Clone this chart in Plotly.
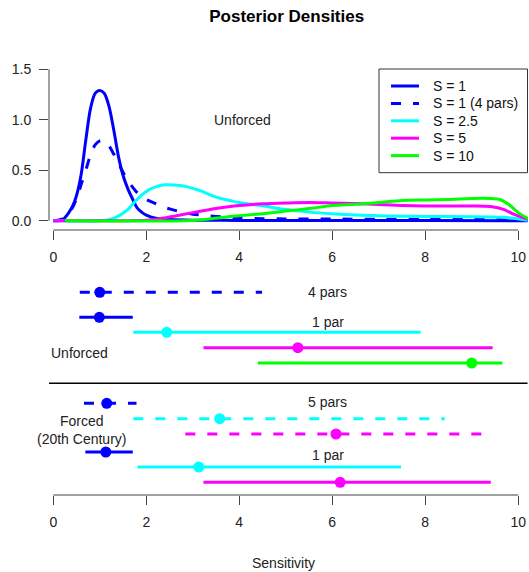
import plotly.graph_objects as go

# ---------------- data ----------------
# Posterior densities
s1_x = [0.0, 0.2, 0.4, 0.5, 0.6, 0.7, 0.8, 0.9, 1.0, 1.1, 1.2, 1.3, 1.4, 1.5, 1.6, 1.7, 1.8, 1.9, 2.0, 2.2, 2.5, 3.0, 4.0, 6.0, 8.0, 10.2]
s1_y = [0.0, 0.01, 0.13, 0.25, 0.46, 0.80, 1.11, 1.26, 1.29, 1.26, 1.13, 0.90, 0.64, 0.45, 0.32, 0.22, 0.13, 0.085, 0.055, 0.025, 0.012, 0.005, 0.003, 0.002, 0.002, 0.0]

s1p4_x = [0.0, 0.2, 0.4, 0.5, 0.6, 0.7, 0.8, 0.9, 1.0, 1.1, 1.2, 1.3, 1.4, 1.5, 1.6, 1.8, 2.0, 2.2, 2.4, 2.6, 2.8, 3.0, 3.3, 3.7, 4.0, 4.5, 5.0, 6.0, 7.0, 8.0, 9.0, 10.0, 10.2]
s1p4_y = [0.0, 0.02, 0.12, 0.22, 0.36, 0.50, 0.65, 0.75, 0.79, 0.79, 0.74, 0.66, 0.57, 0.48, 0.40, 0.28, 0.21, 0.17, 0.13, 0.105, 0.08, 0.065, 0.05, 0.035, 0.027, 0.02, 0.018, 0.016, 0.015, 0.013, 0.012, 0.01, 0.004]

s25_x = [0.0, 1.0, 1.2, 1.4, 1.6, 1.8, 2.0, 2.2, 2.4, 2.6, 2.8, 3.0, 3.2, 3.4, 3.6, 3.8, 4.0, 4.3, 4.6, 5.0, 5.5, 6.0, 6.5, 7.0, 7.5, 8.0, 9.0, 9.6, 9.9, 10.2]
s25_y = [0.0, 0.0, 0.01, 0.045, 0.11, 0.21, 0.29, 0.335, 0.355, 0.353, 0.343, 0.32, 0.29, 0.25, 0.22, 0.20, 0.18, 0.16, 0.14, 0.11, 0.085, 0.068, 0.056, 0.05, 0.045, 0.042, 0.04, 0.035, 0.025, 0.005]

s5_x = [0.0, 2.0, 2.3, 2.6, 3.0, 3.5, 4.0, 4.5, 5.0, 5.5, 6.0, 6.5, 7.0, 7.5, 8.0, 8.5, 9.0, 9.4, 9.7, 9.9, 10.1, 10.25]
s5_y = [0.0, 0.005, 0.02, 0.045, 0.08, 0.12, 0.15, 0.167, 0.175, 0.18, 0.175, 0.17, 0.16, 0.15, 0.145, 0.145, 0.145, 0.14, 0.11, 0.065, 0.03, 0.01]

s10_x = [0.25, 2.8, 3.2, 3.6, 4.0, 4.5, 5.0, 5.5, 6.0, 6.5, 7.0, 7.5, 8.0, 8.5, 9.0, 9.4, 9.6, 9.8, 10.0, 10.25]
s10_y = [0.0, 0.0, 0.01, 0.03, 0.05, 0.07, 0.095, 0.12, 0.15, 0.162, 0.18, 0.2, 0.205, 0.21, 0.22, 0.22, 0.21, 0.16, 0.08, 0.012]

density_names = ["S = 1", "S = 1 (4 pars)", "S = 2.5", "S = 5", "S = 10"]

# Interval summaries: (lower, median, upper)
unforced_4pars = [("S = 1", 0.57, 1.00, 4.49)]
unforced_1par = [("S = 1", 0.56, 0.99, 1.71), ("S = 2.5", 1.72, 2.44, 7.90),
                 ("S = 5", 3.23, 5.26, 9.45), ("S = 10", 4.40, 9.00, 9.66)]
forced_5pars = [("S = 1", 0.66, 1.15, 1.79), ("S = 2.5", 1.72, 3.58, 8.42),
                ("S = 5", 2.84, 6.08, 9.45)]
forced_1par = [("S = 1", 0.69, 1.13, 1.71), ("S = 2.5", 1.81, 3.13, 7.48),
               ("S = 5", 3.23, 6.17, 9.41)]

x_ticks = [0, 2, 4, 6, 8, 10]
y_ticks = [0.0, 0.5, 1.0, 1.5]

# ---------------- styling ----------------
colors = {"S = 1": "#0000FF", "S = 2.5": "#00FFFF", "S = 5": "#FF00FF", "S = 10": "#00FF00"}
FONT = "Liberation Sans, Arial, Helvetica, sans-serif"
W, H = 529, 572
LW = 3
DASH = "10px,12px"

def py(px):  # pixel row -> paper y
    return 1 - px / H

def pxx(px):  # pixel column -> paper x
    return px / W

fig = go.Figure()

dens = [(s1_x, s1_y, "S = 1", "solid"), (s1p4_x, s1p4_y, "S = 1", DASH),
        (s25_x, s25_y, "S = 2.5", "solid"), (s5_x, s5_y, "S = 5", "solid"),
        (s10_x, s10_y, "S = 10", "solid")]
for (xs, ys, key, dash), name in zip(dens, density_names):
    fig.add_trace(go.Scatter(x=xs, y=ys, mode="lines", name=name, showlegend=False,
                             line=dict(color=colors[key], width=LW, dash=dash, shape="spline", smoothing=0.8),
                             xaxis="x", yaxis="y"))

# Bottom panel rows (row slot positions in panel units)
row_pos = {
    "u4": [292.3],
    "u1": [317.3, 332.3, 347.7, 363.0],
    "f5": [403.3, 418.7, 434.0],
    "f1": [452.0, 467.0, 482.3],
}
groups = [(unforced_4pars, row_pos["u4"], DASH), (unforced_1par, row_pos["u1"], "solid"),
          (forced_5pars, row_pos["f5"], DASH), (forced_1par, row_pos["f1"], "solid")]
for data, rows, dash in groups:
    for (key, lo, med, hi), yy in zip(data, rows):
        fig.add_trace(go.Scatter(x=[lo, hi], y=[yy, yy], mode="lines", showlegend=False,
                                 line=dict(color=colors[key], width=LW, dash=dash),
                                 xaxis="x2", yaxis="y2"))
        fig.add_trace(go.Scatter(x=[med], y=[yy], mode="markers", showlegend=False,
                                 marker=dict(color=colors[key], size=11, line=dict(width=0)),
                                 xaxis="x2", yaxis="y2"))

xr = [-0.092, 10.21]
xdom = [49 / W, 528 / W]
axis_common = dict(showgrid=False, zeroline=False, showline=False, ticks="outside", ticklen=9,
                   tickwidth=1, tickcolor="#444", tickfont=dict(size=14, color="#222", family=FONT))

fig.update_layout(
    width=W, height=H, autosize=False,
    margin=dict(l=0, r=0, t=0, b=0, autoexpand=False),
    paper_bgcolor="white", plot_bgcolor="white",
    font=dict(family=FONT, size=14, color="#222"),
    title=dict(text="<b>Posterior Densities</b>", x=286.7 / W, xanchor="center",
               y=py(16.5), yanchor="middle", yref="container",
               font=dict(size=17, color="black", family=FONT)),
    xaxis=dict(domain=xdom, range=xr, anchor="y", tickvals=x_ticks, ticklabelstandoff=5, **axis_common),
    yaxis=dict(domain=[py(230), py(68)], range=[-0.092, 1.512], anchor="x",
               tickvals=y_ticks, tickformat=".1f", ticklabelstandoff=5, **axis_common),
    xaxis2=dict(domain=xdom, range=xr, anchor="y2", tickvals=x_ticks, ticklabelstandoff=5, **axis_common),
    yaxis2=dict(domain=[py(495), py(280)], range=[495, 280], anchor="x2", visible=False),
    showlegend=False,
)

# R-style axis spines spanning only the tick range
fig.add_shape(type="line", xref="x", yref="y domain", x0=0, x1=10, y0=0, y1=0,
              line=dict(color="#444", width=1))
fig.add_shape(type="line", xref="x domain", yref="y", x0=0, x1=0, y0=0, y1=1.5,
              line=dict(color="#444", width=1))
fig.add_shape(type="line", xref="x2", yref="y2 domain", x0=0, x1=10, y0=0, y1=0,
              line=dict(color="#444", width=1))
# separator between unforced and forced
fig.add_shape(type="line", xref="x2", yref="y2", x0=-0.39, x1=10.2, y0=383.3, y1=383.3,
              line=dict(color="black", width=1.5))

# Legend box (R-style, top right of density panel)
fig.add_shape(type="rect", xref="paper", yref="paper", x0=pxx(379), x1=pxx(527.5), y0=py(172.7), y1=py(69),
              line=dict(color="#333", width=1), fillcolor="white", layer="above")
for i, ((xs, ys, key, dash), name) in enumerate(zip(dens, density_names)):
    ry = py(86 + 17.4 * i)
    fig.add_shape(type="line", xref="paper", yref="paper", x0=pxx(391), x1=pxx(419), y0=ry, y1=ry,
                  line=dict(color=colors[key], width=LW, dash=dash), layer="above")
    fig.add_annotation(text=name, x=pxx(431), y=ry, xref="paper", yref="paper", xanchor="left",
                       yanchor="middle", showarrow=False, font=dict(size=14, color="#111", family=FONT))

ann = dict(showarrow=False, font=dict(size=14, color="#222", family=FONT))
fig.add_annotation(text="Unforced", x=4.07, y=1.0, xref="x", yref="y", **ann)
fig.add_annotation(text="4 pars", x=5.9, y=292.3, xref="x2", yref="y2", **ann)
fig.add_annotation(text="1 par", x=5.91, y=322.3, xref="x2", yref="y2", **ann)
fig.add_annotation(text="Unforced", x=0.57, y=352.7, xref="x2", yref="y2", **ann)
fig.add_annotation(text="5 pars", x=5.9, y=402.3, xref="x2", yref="y2", **ann)
fig.add_annotation(text="1 par", x=5.9, y=455.0, xref="x2", yref="y2", **ann)
fig.add_annotation(text="Forced<br>(20th Century)", x=0.61, y=429.5, xref="x2", yref="y2", **ann)
fig.add_annotation(text="Sensitivity", x=283 / W, y=py(562.7), xref="paper", yref="paper",
                   yanchor="middle", **ann)

fig.write_html("out.html", config={"displayModeBar": False},
               post_script="document.body.style.margin='0px';document.body.style.overflow='hidden';")
